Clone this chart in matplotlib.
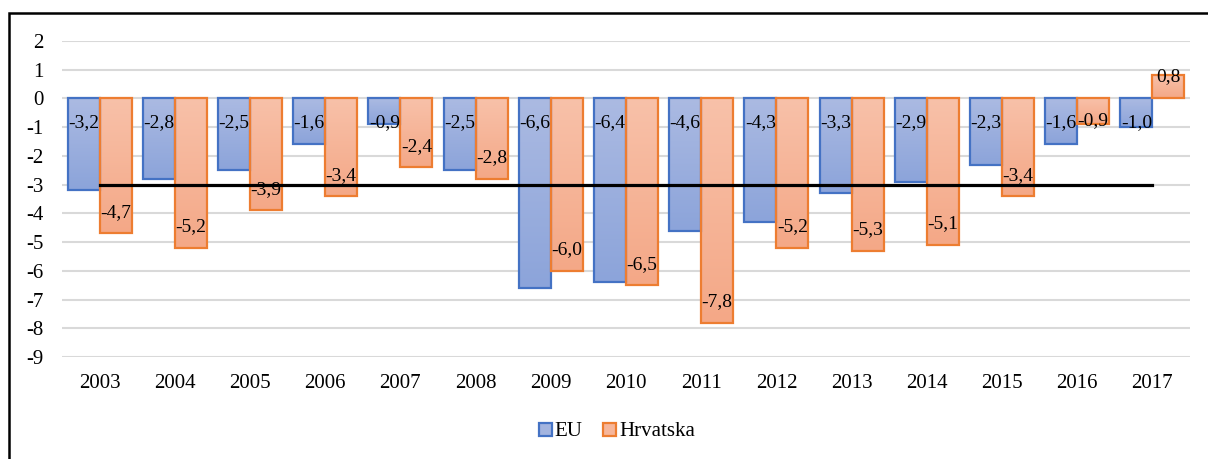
import numpy as np
import matplotlib
matplotlib.use("Agg")
import matplotlib.pyplot as plt
from matplotlib.patches import Patch, Rectangle
from matplotlib.colors import LinearSegmentedColormap

years = ["2003", "2004", "2005", "2006", "2007", "2008", "2009", "2010",
         "2011", "2012", "2013", "2014", "2015", "2016", "2017"]
eu = [-3.2, -2.8, -2.5, -1.6, -0.9, -2.5, -6.6, -6.4, -4.6, -4.3, -3.3, -2.9, -2.3, -1.6, -1.0]
hr = [-4.7, -5.2, -3.9, -3.4, -2.4, -2.8, -6.0, -6.5, -7.8, -5.2, -5.3, -5.1, -3.4, -0.9, 0.8]
limit = -3  # reference line

plt.rcParams['font.family'] = ['Liberation Serif', 'DejaVu Serif']
plt.rcParams['axes.unicode_minus'] = False

fig = plt.figure(figsize=(12.08, 4.59), dpi=100)
ax = fig.add_axes([62/1208, 1-357/459, 1128/1208, 316/459])

x = np.arange(len(years))
w = 0.425

blue_cm = LinearSegmentedColormap.from_list("b", ["#ABBAE2", "#8CA4DA"])
org_cm = LinearSegmentedColormap.from_list("o", ["#F8C1A9", "#F4A887"])
grad = np.linspace(0, 1, 64).reshape(-1, 1)


def gradient_bars(vals, offset, cmap, edge):
    bars = ax.bar(x + offset, vals, w, facecolor="none", edgecolor=edge,
                  linewidth=1.6, zorder=3)
    for b in bars:
        x0, y0 = b.get_x(), b.get_y()
        x1, y1 = x0 + b.get_width(), y0 + b.get_height()
        top, bot = max(y0, y1), min(y0, y1)
        ax.imshow(grad, cmap=cmap, aspect="auto", extent=[x0, x1, bot, top],
                  origin="upper", zorder=2, interpolation="bilinear")
    return bars


gradient_bars(eu, -w/2, blue_cm, "#4472C4")
gradient_bars(hr, w/2, org_cm, "#ED7D31")

ax.plot([x[0], x[-1]], [limit, limit], color="black", lw=2.3, zorder=4)

upx = 316 / 11.0  # pixels per unit
for i, v in enumerate(eu):
    ax.text(x[i] - w/2, -24/upx, f"{v:.1f}".replace(".", ","), ha="center",
            va="center", fontsize=14, zorder=5)
for i, v in enumerate(hr):
    end = abs(v) * upx
    off = max(end - 21, min(end, 22))
    ax.text(x[i] + w/2, np.sign(v) * off / upx, f"{v:.1f}".replace(".", ","),
            ha="center", va="center", fontsize=14, zorder=5)

ax.set_xlim(-0.5, len(years) - 0.5)
ax.set_ylim(-9, 2)
ax.set_yticks(range(-9, 3))
ax.set_xticks(x)
ax.set_xticklabels(years)
ax.tick_params(length=0, labelsize=15)
ax.tick_params(axis="y", pad=13)
ax.tick_params(axis="x", pad=12)
ax.yaxis.grid(True, color="#D9D9D9", lw=1.5, zorder=0)
ax.set_axisbelow(True)
for s in ax.spines.values():
    s.set_visible(False)

handles = [Patch(facecolor="#A3B4DF", edgecolor="#4472C4", lw=1.6, label="EU"),
           Patch(facecolor="#F6B69B", edgecolor="#ED7D31", lw=1.6, label="Hrvatska")]
fig.legend(handles=handles, loc="center", bbox_to_anchor=(617/1208, 1-432/459),
           ncol=2, frameon=False, fontsize=15, handlelength=0.6, handleheight=0.6,
           handletextpad=0.15, columnspacing=1.0)

# outer frame (only left and top visible)
fig.patches.append(Rectangle((9/1208, -0.1), 1.2, 1-13/459 + 0.1, transform=fig.transFigure,
                             fill=False, edgecolor="black", lw=1.8))

fig.savefig("out.png", dpi=100)
